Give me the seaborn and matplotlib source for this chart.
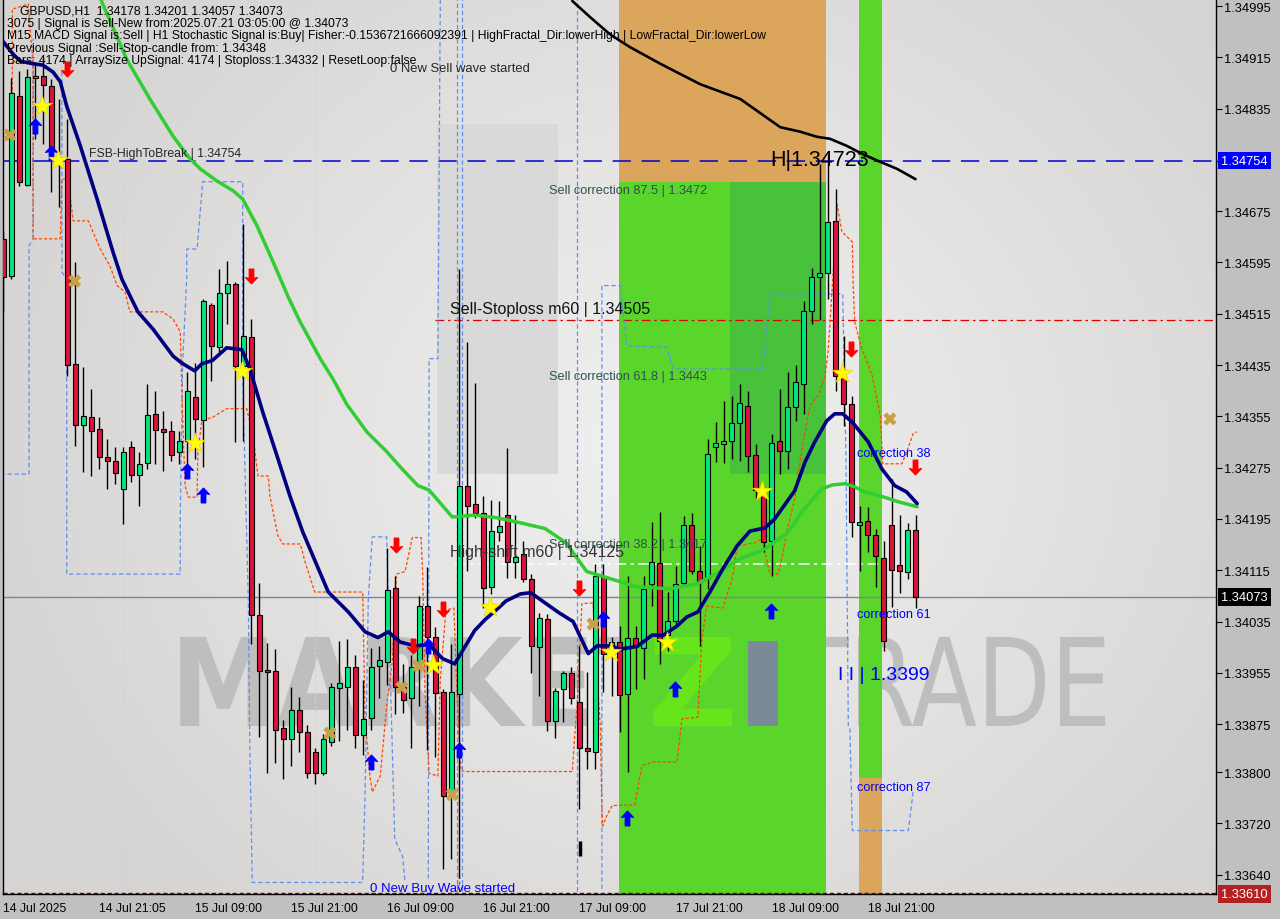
import numpy as np
import pandas as pd
import matplotlib
matplotlib.use("Agg")
import matplotlib.pyplot as plt
import matplotlib.transforms as mtransforms
from matplotlib.patches import Rectangle, PathPatch
from matplotlib.path import Path
from matplotlib.textpath import TextPath
from matplotlib.font_manager import FontProperties
from matplotlib.colors import LinearSegmentedColormap
import seaborn as sns

sns.set_style("white")
plt.rcParams["font.family"] = ["Liberation Sans", "DejaVu Sans"]

# ---------------- GBPUSD H1 candles ----------------
opens = [1.34632, 1.34574, 1.34855, 1.34716, 1.34883, 1.34886, 1.34870, 1.34760, 1.34757, 1.34437,
         1.34342, 1.34354, 1.34336, 1.34292, 1.34286, 1.34242, 1.34307, 1.34264, 1.34283, 1.34359,
         1.34336, 1.34332, 1.34300, 1.34317, 1.34385, 1.34350, 1.34529, 1.34463, 1.34548, 1.34562,
         1.34434, 1.34479, 1.34045, 1.33960, 1.33958, 1.33869, 1.33852, 1.33897, 1.33862, 1.33832,
         1.33799, 1.33847, 1.33932, 1.33933, 1.33964, 1.33858, 1.33885, 1.33966, 1.33972, 1.34088,
         1.33933, 1.33915, 1.33972, 1.34059, 1.34011, 1.33925, 1.33766, 1.33922, 1.34247, 1.34218,
         1.34204, 1.34089, 1.34175, 1.34201, 1.34128, 1.34141, 1.34102, 1.33996, 1.34039, 1.33880,
         1.33929, 1.33955, 1.33910, 1.33837, 1.33832, 1.34106, 1.33992, 1.34003, 1.33922, 1.34010,
         1.33994, 1.34094, 1.34127, 1.34014, 1.34036, 1.34095, 1.34186, 1.34114, 1.34103, 1.34307,
         1.34312, 1.34317, 1.34345, 1.34371, 1.34295, 1.34234, 1.34161, 1.34317, 1.34301, 1.34370,
         1.34406, 1.34520, 1.34573, 1.34579, 1.34660, 1.34418, 1.34374, 1.34186, 1.34192, 1.34170,
         1.34134, 1.34186, 1.34123, 1.34113, 1.34178]
highs = [1.34644, 1.34883, 1.34894, 1.34897, 1.34908, 1.34916, 1.34881, 1.34850, 1.34819, 1.34596,
         1.34432, 1.34398, 1.34354, 1.34320, 1.34307, 1.34307, 1.34317, 1.34300, 1.34406, 1.34395,
         1.34364, 1.34348, 1.34332, 1.34424, 1.34438, 1.34538, 1.34532, 1.34585, 1.34597, 1.34565,
         1.34655, 1.34507, 1.34095, 1.34002, 1.33992, 1.33882, 1.33933, 1.33918, 1.33874, 1.33837,
         1.33860, 1.33939, 1.34005, 1.34008, 1.33983, 1.33944, 1.33994, 1.33997, 1.34150, 1.34106,
         1.33969, 1.33983, 1.34075, 1.34120, 1.34027, 1.33930, 1.34000, 1.34585, 1.34471, 1.34407,
         1.34231, 1.34225, 1.34223, 1.34306, 1.34201, 1.34161, 1.34109, 1.34049, 1.34047, 1.33932,
         1.33958, 1.33964, 1.33997, 1.33957, 1.34125, 1.34125, 1.34011, 1.34028, 1.34106, 1.34028,
         1.34106, 1.34190, 1.34206, 1.34081, 1.34122, 1.34200, 1.34204, 1.34153, 1.34320, 1.34346,
         1.34379, 1.34387, 1.34406, 1.34395, 1.34312, 1.34247, 1.34328, 1.34398, 1.34424, 1.34435,
         1.34535, 1.34587, 1.34749, 1.34765, 1.34710, 1.34481, 1.34387, 1.34215, 1.34214, 1.34180,
         1.34161, 1.34257, 1.34201, 1.34189, 1.34201]
lows = [1.34518, 1.34569, 1.34714, 1.34714, 1.34788, 1.34780, 1.34705, 1.34682, 1.34418, 1.34309,
        1.34268, 1.34262, 1.34273, 1.34242, 1.34250, 1.34187, 1.34253, 1.34215, 1.34273, 1.34281,
        1.34270, 1.34286, 1.34281, 1.34261, 1.34289, 1.34276, 1.34410, 1.34456, 1.34499, 1.34315,
        1.34317, 1.34000, 1.33855, 1.33798, 1.33815, 1.33790, 1.33810, 1.33832, 1.33791, 1.33782,
        1.33796, 1.33841, 1.33849, 1.33866, 1.33837, 1.33827, 1.33866, 1.33915, 1.33936, 1.33890,
        1.33893, 1.33838, 1.33904, 1.33835, 1.33824, 1.33649, 1.33665, 1.33635, 1.34114, 1.34197,
        1.34056, 1.34078, 1.34161, 1.34103, 1.34103, 1.34097, 1.33955, 1.33919, 1.33865, 1.33854,
        1.33879, 1.33907, 1.33743, 1.33805, 1.33805, 1.33925, 1.33919, 1.33863, 1.33801, 1.33930,
        1.33946, 1.34059, 1.33968, 1.33989, 1.34028, 1.34091, 1.34109, 1.33997, 1.34086, 1.34284,
        1.34283, 1.34289, 1.34286, 1.34268, 1.34226, 1.34144, 1.34106, 1.34265, 1.34273, 1.34348,
        1.34359, 1.34499, 1.34505, 1.34538, 1.34395, 1.34340, 1.34167, 1.34114, 1.34144, 1.34089,
        1.33989, 1.34058, 1.34080, 1.34102, 1.34056]
closes = [1.34573, 1.34859, 1.34721, 1.34884, 1.34886, 1.34872, 1.34772, 1.34757, 1.34435, 1.34342,
          1.34356, 1.34332, 1.34292, 1.34286, 1.34267, 1.34300, 1.34264, 1.34281, 1.34357, 1.34334,
          1.34331, 1.34295, 1.34317, 1.34395, 1.34351, 1.34535, 1.34465, 1.34548, 1.34562, 1.34434,
          1.34481, 1.34045, 1.33958, 1.33957, 1.33866, 1.33851, 1.33897, 1.33863, 1.33798, 1.33798,
          1.33852, 1.33933, 1.33939, 1.33964, 1.33858, 1.33883, 1.33964, 1.33975, 1.34084, 1.33933,
          1.33913, 1.33964, 1.34059, 1.34011, 1.33924, 1.33763, 1.33925, 1.34247, 1.34215, 1.34204,
          1.34088, 1.34176, 1.34184, 1.34128, 1.34136, 1.34102, 1.33997, 1.34041, 1.33880, 1.33927,
          1.33955, 1.33915, 1.33837, 1.33833, 1.34106, 1.33985, 1.34003, 1.33921, 1.34010, 1.33996,
          1.34086, 1.34128, 1.34005, 1.34036, 1.34094, 1.34186, 1.34114, 1.34098, 1.34297, 1.34314,
          1.34317, 1.34345, 1.34376, 1.34293, 1.34240, 1.34159, 1.34314, 1.34301, 1.34370, 1.34409,
          1.34520, 1.34573, 1.34579, 1.34658, 1.34418, 1.34374, 1.34190, 1.34190, 1.34170, 1.34137,
          1.34005, 1.34116, 1.34114, 1.34178, 1.34073]

# moving averages (sampled at bar positions)
navy_x = [0, 1.2, 2.1, 3.7, 4.9, 6.2, 7.1, 7.9, 9.6, 11.7, 13.7, 14.8, 16.8, 18.7, 21.2, 22.3, 23.9, 24.8,
          26.1, 27.9, 29.8, 30.8, 32.4, 34.2, 35.8, 37.4, 39.2, 40.6, 43.1, 45.2, 46.8, 48.1, 49.6, 51.4,
          53.2, 54.9, 56.4, 57.6, 58.9, 60.2, 61.6, 62.8, 64.6, 65.9, 67.7, 69.4, 71.2, 73.1, 74.2, 75.8,
          77.1, 79.2, 81.1, 82.4, 84.2, 85.4, 86.8, 88.3, 89.9, 91.7, 93.3, 95.2, 96.4, 98.9, 100.2, 101.4,
          102.9, 103.9, 104.9, 106.1, 108.1, 109.8, 111.4, 112.9, 114.2]
navy_y = [1.34939, 1.34920, 1.34909, 1.34905, 1.34903, 1.34892, 1.34877, 1.34839, 1.34777, 1.34694,
          1.34611, 1.34569, 1.34518, 1.34491, 1.34449, 1.34438, 1.34426, 1.34437, 1.34442, 1.34462,
          1.34459, 1.34429, 1.34362, 1.34293, 1.34231, 1.34175, 1.34122, 1.34081, 1.34050, 1.34019,
          1.34010, 1.34019, 1.34003, 1.33997, 1.33999, 1.33977, 1.33969, 1.33994, 1.34021, 1.34038,
          1.34053, 1.34067, 1.34078, 1.34080, 1.34064, 1.34049, 1.34035, 1.33985, 1.33997, 1.33997,
          1.33992, 1.33996, 1.34014, 1.34013, 1.34028, 1.34042, 1.34050, 1.34081, 1.34117, 1.34153,
          1.34176, 1.34181, 1.34195, 1.34239, 1.34284, 1.34315, 1.34348, 1.34359, 1.34359, 1.34346,
          1.34315, 1.34273, 1.34247, 1.34237, 1.34219]
green_x = [12.0, 15.4, 18.3, 21.2, 23.3, 24.6, 26.7, 28.7, 29.9, 31.7, 33.7, 35.6, 37.1, 39.6, 41.2, 42.9,
           45.4, 47.9, 49.6, 51.8, 53.2, 56.1, 58.9, 61.6, 64.6, 67.7, 70.3, 72.9, 75.8, 79.2, 83.3, 86.7,
           89.6, 92.1, 95.2, 98.1, 99.8, 102.3, 103.6, 105.2, 106.4, 107.7, 109.8, 111.8, 114.2]
green_y = [1.35010, 1.34912, 1.34850, 1.34792, 1.34757, 1.34741, 1.34722, 1.34707, 1.34694, 1.34652,
           1.34596, 1.34541, 1.34502, 1.34445, 1.34413, 1.34374, 1.34331, 1.34300, 1.34276, 1.34247,
           1.34240, 1.34198, 1.34201, 1.34197, 1.34189, 1.34180, 1.34158, 1.34113, 1.34102, 1.34089,
           1.34086, 1.34094, 1.34113, 1.34133, 1.34148, 1.34175, 1.34206, 1.34242, 1.34248, 1.34250,
           1.34245, 1.34237, 1.34230, 1.34222, 1.34214]
black_x = [71.1, 73.3, 75.8, 78.3, 82.1, 87.1, 92.1, 97.1, 99.6, 101.7, 103.3, 105.4, 107.4, 109.6, 111.7, 114.0]
black_y = [1.35003, 1.34978, 1.34951, 1.34931, 1.34905, 1.34873, 1.34850, 1.34806, 1.34799, 1.34791,
           1.34788, 1.34777, 1.34764, 1.34752, 1.34741, 1.34725]

# orange trailing envelope (dashed steps)
orange_x = [1.1, 1.1, 3.1, 3.7, 3.7, 7.1, 7.3, 8.1, 8.7, 10.6, 12.1, 13.3, 14.2, 15.2, 15.8, 19.9, 21.2,
            22.1, 22.4, 22.7, 23.1, 24.2, 24.3, 24.8, 26.2, 27.9, 30.4, 31.2, 31.8, 33.1, 33.3, 34.3, 34.9,
            37.1, 37.7, 38.9, 44.9, 45.2, 45.8, 46.1, 47.1, 47.6, 47.9, 48.6, 49.1, 50.2, 51.1, 52.2, 52.4,
            52.7, 53.2, 54.3, 54.6, 55.3, 56.3, 56.7, 57.2, 58.1, 71.1, 71.4, 71.7, 72.3, 73.7, 73.9, 74.6,
            74.8, 74.9, 75.4, 76.1, 78.9, 79.8, 81.1, 84.2, 84.8, 86.8, 87.3, 87.9, 89.9, 90.4, 91.1, 91.7,
            94.0, 94.8, 95.8, 96.8, 97.3, 97.9, 98.9, 99.8, 100.8, 101.8, 102.7, 103.1, 103.9, 104.2, 104.8,
            106.1, 106.2, 106.4, 107.3, 108.6, 109.6, 109.9, 112.3, 112.9, 113.7, 114.2]
orange_y = [1.34792, 1.34990, 1.34998, 1.34902, 1.34632, 1.34632, 1.34725, 1.34725, 1.34660, 1.34660,
            1.34616, 1.34590, 1.34559, 1.34549, 1.34518, 1.34518, 1.34507, 1.34487, 1.34351, 1.34247,
            1.34229, 1.34229, 1.34300, 1.34348, 1.34354, 1.34367, 1.34367, 1.34325, 1.34262, 1.34262,
            1.34231, 1.34169, 1.34156, 1.34156, 1.34128, 1.34081, 1.34081, 1.33883, 1.33794, 1.33769,
            1.33794, 1.33863, 1.33904, 1.33972, 1.34109, 1.34113, 1.34166, 1.34166, 1.34109, 1.33922,
            1.33798, 1.33794, 1.33944, 1.34053, 1.34056, 1.33918, 1.33802, 1.33801, 1.33801, 1.33857,
            1.33904, 1.34063, 1.34064, 1.34008, 1.33872, 1.33743, 1.33716, 1.33732, 1.33748, 1.33749,
            1.33810, 1.33816, 1.33816, 1.33883, 1.33886, 1.34008, 1.34059, 1.34056, 1.34075, 1.34102,
            1.34153, 1.34158, 1.34164, 1.34109, 1.34109, 1.34133, 1.34175, 1.34226, 1.34304, 1.34371,
            1.34387, 1.34418, 1.34460, 1.34616, 1.34686, 1.34643, 1.34627, 1.34565, 1.34502, 1.34460,
            1.34418, 1.34356, 1.34281, 1.34281, 1.34300, 1.34328, 1.34331]

# blue fractal channel lines (dashed)
blue_paths = [
    ([-0.4, 3.2, 3.2, 3.7, 3.7], [1.34265, 1.34265, 1.34621, 1.34632, 1.34944]),
    ([7.3, 7.3, 7.9, 7.9, 22.1, 22.1, 22.4, 22.9, 22.9, 24.2, 24.9, 29.9, 29.9, 30.6, 30.8, 31.1, 44.9,
      45.2, 45.6, 46.1, 47.9, 48.1, 48.9, 49.9, 50.2],
     [1.34892, 1.34580, 1.34569, 1.34109, 1.34109, 1.34206, 1.34440, 1.34569, 1.34616, 1.34616, 1.34721,
      1.34721, 1.34413, 1.34070, 1.33832, 1.33628, 1.33628, 1.33769, 1.34070, 1.34167, 1.34167, 1.34070,
      1.33696, 1.33668, 1.33628]),
    ([53.1, 53.2, 54.3, 54.6], [1.33634, 1.34445, 1.34445, 1.35006]),
    ([56.7, 56.7], [1.33614, 1.35006]),
    ([57.3, 57.3], [1.33614, 1.35006]),
    ([71.7, 71.7], [1.33614, 1.35006]),
    ([74.8, 74.8, 77.1, 77.9, 82.9, 83.7, 94.9, 95.8, 104.9, 105.3, 105.6, 105.8, 106.1, 113.1, 113.7],
     [1.33618, 1.34559, 1.34559, 1.34465, 1.34463, 1.34429, 1.34429, 1.34546, 1.34546, 1.34300, 1.33872,
      1.33868, 1.33709, 1.33709, 1.33769]),
]

# signal markers
star_x = [4.8, 6.8, 23.9, 29.8, 53.7, 60.8, 75.9, 82.9, 94.8, 104.8]
star_y = [1.34839, 1.34755, 1.34314, 1.34426, 1.33967, 1.34058, 1.33988, 1.34003, 1.34239, 1.34423]
buy_x = [3.9, 5.9, 22.9, 24.9, 45.9, 53.1, 56.9, 74.9, 77.9, 83.9, 95.9]
buy_y = [1.34808, 1.34766, 1.34270, 1.34233, 1.33816, 1.33997, 1.33835, 1.34039, 1.33729, 1.33930, 1.34052]
sell_x = [7.9, 30.9, 49.1, 51.2, 54.9, 71.9, 105.9, 113.9]
sell_y = [1.34897, 1.34574, 1.34155, 1.33997, 1.34055, 1.34088, 1.34460, 1.34276]
cross_x = [0.8, 8.9, 40.8, 49.8, 51.9, 56.1, 73.7, 110.8]
cross_y = [1.34794, 1.34566, 1.33861, 1.33932, 1.33966, 1.33765, 1.34031, 1.34351]

# levels
fsb_level = 1.34754
stoploss_level = 1.34505
highshift_level = 1.34125
last_price = 1.34073
chart_low = 1.33610

price_ticks = [1.34995, 1.34915, 1.34835, 1.34675, 1.34595, 1.34515, 1.34435, 1.34355, 1.34275,
               1.34195, 1.34115, 1.34035, 1.33955, 1.33875, 1.33800, 1.33720, 1.33640]
time_ticks = [0, 12, 24, 36, 48, 60, 72, 84, 96, 108]
time_labels = ["14 Jul 2025", "14 Jul 21:05", "15 Jul 09:00", "15 Jul 21:00", "16 Jul 09:00",
               "16 Jul 21:00", "17 Jul 09:00", "17 Jul 21:00", "18 Jul 09:00", "18 Jul 21:00"]

header = ["GBPUSD,H1  1.34178 1.34201 1.34057 1.34073",
          "3075 | Signal is Sell-New from:2025.07.21 03:05:00 @ 1.34073",
          "M15 MACD Signal is:Sell | H1 Stochastic Signal is:Buy| Fisher:-0.1536721666092391 | "
          "HighFractal_Dir:lowerHigh | LowFractal_Dir:lowerLow",
          "Previous Signal :Sell-Stop-candle from: 1.34348",
          "Bars: 4174 | ArraySize UpSignal: 4174 | Stoploss:1.34332 | ResetLoop:false"]

df = pd.DataFrame({"bar": np.arange(len(opens)), "open": opens, "high": highs,
                   "low": lows, "close": closes})

X0, X1 = -0.06, 151.56
Y0, Y1 = 1.33610, 1.35006

fig = plt.figure(figsize=(12.8, 9.2), dpi=100)
fig.patch.set_facecolor("#c0c0c0")
ax = fig.add_axes([3 / 1280, 25 / 920, 1213 / 1280, 895 / 920])
ax.set_xlim(X0, X1)
ax.set_ylim(Y0, Y1)

# soft background
gy, gx = np.mgrid[0:1:92j, 0:1:128j]
dist = np.sqrt(((gx - 0.55) * 1.25) ** 2 + (gy - 0.5) ** 2)
shade = np.clip(1 - dist / 0.75, 0, 1)
bg_cmap = LinearSegmentedColormap.from_list("bg", ["#d6d4d2", "#f1f1f1"])
ax.imshow(shade, extent=[X0, X1, Y0, Y1], aspect="auto", cmap=bg_cmap, vmin=0, vmax=1,
          origin="lower", interpolation="bilinear", zorder=0)
ax.add_patch(Rectangle((54.2, 1.34265), 15.1, 0.00546, fc="#d9d9d9", ec="none", zorder=0.3))


def fit_text(s, x0, x1, y0, y1, color, weight="bold", family="DejaVu Sans", z=0.5):
    tp = TextPath((0, 0), s, size=100, prop=FontProperties(family=family, weight=weight))
    ext = tp.get_extents()
    v = tp.vertices.copy()
    v[:, 0] = x0 + (v[:, 0] - ext.x0) / ext.width * (x1 - x0)
    v[:, 1] = y0 + (v[:, 1] - ext.y0) / ext.height * (y1 - y0)
    ax.add_patch(PathPatch(Path(v, tp.codes), fc=color, ec="none", zorder=z))


fit_text("MARKETIZ", 22.1, 97.0, 1.33872, 1.34011, "#bebebe")
fit_text("TRADE", 98.3, 137.7, 1.33872, 1.34011, "#bebebe", weight="normal", family="DejaVu Sans")

# signal zones
ax.add_patch(Rectangle((76.94, Y0), 25.9, 1.34721 - Y0, fc="#5ad52b", ec="none", zorder=1))
ax.add_patch(Rectangle((76.94, 1.34721), 25.9, Y1 - 1.34721, fc="#dca55c", ec="none", zorder=1))
ax.add_patch(Rectangle((90.8, 1.34265), 12.0, 0.00456, fc="#49c23b", ec="none", zorder=1.1))
fit_text("Z", 81.2, 91.1, 1.33872, 1.34011, "#66e61a", z=1.15)
ax.add_patch(Rectangle((93.1, 1.33872), 3.7, 0.00133, fc="#7a8a98", ec="none", zorder=1.2))
ax.add_patch(Rectangle((106.9, 1.33791), 2.9, Y1 - 1.33791, fc="#5ad52b", ec="none", zorder=1))
ax.add_patch(Rectangle((106.9, Y0), 2.9, 1.33791 - Y0, fc="#dca55c", ec="none", zorder=1))

# grid / separators
for gxp in [14.9, 38.9]:
    ax.axvline(gxp, color="#b0e0e6", ls=(0, (2, 2)), lw=0.8, zorder=1.5)

# horizontal levels
ax.axhline(fsb_level, color="#0000cd", ls=(0, (12, 7)), lw=1.1, zorder=2)
ax.hlines(stoploss_level, 54.0, X1, color="#e00000", ls=(0, (7, 3, 2, 3)), lw=0.9, zorder=2)
ax.hlines(highshift_level, 56.4, 110.0, color="white", ls=(0, (7, 3, 2, 3)), lw=1.1, zorder=2)
ax.axhline(last_price, color="#778899", lw=1.0, zorder=2)
ax.axhline(chart_low + 0.00002, color="#8b0000", ls=(0, (3, 2)), lw=1.0, zorder=2)
ax.vlines(57.0, 1.33614, 1.33919, color="#c83232", ls=(0, (3, 2)), lw=0.9, zorder=2)

for bx, by in blue_paths:
    ax.plot(bx, by, color="#5b8ff0", ls=(0, (3.5, 2.2)), lw=0.9, zorder=2.2)
ax.plot(orange_x, orange_y, color="#ff4500", ls=(0, (2.5, 1.6)), lw=0.9, zorder=2.3)

# candles
up = df["close"] >= df["open"]
ax.vlines(df["bar"], df["low"], df["high"], color="black", lw=1.0, zorder=4)
body_lo = np.minimum(df["open"], df["close"])
body_h = np.maximum((df["close"] - df["open"]).abs(), 0.00002)
ax.bar(df["bar"], body_h, bottom=body_lo, width=0.68,
       color=np.where(up, "#00e87a", "#dc143c"), edgecolor="black", linewidth=0.8, zorder=5)
ax.vlines(72.1, 1.33670, 1.33692, color="black", lw=2.5, zorder=5)

# moving averages
sns.lineplot(x=black_x, y=black_y, ax=ax, color="black", lw=1.9, estimator=None, sort=False, zorder=6)
sns.lineplot(x=green_x, y=green_y, ax=ax, color="#32cd32", lw=2.5, estimator=None, sort=False, zorder=6)
sns.lineplot(x=navy_x, y=navy_y, ax=ax, color="#000080", lw=2.6, estimator=None, sort=False, zorder=6.5)

# markers
up_arrow = Path([(0, 1), (0.8, 0.15), (0.3, 0.3), (0.3, -1), (-0.3, -1), (-0.3, 0.3), (-0.8, 0.15), (0, 1)],
                [Path.MOVETO] + [Path.LINETO] * 6 + [Path.CLOSEPOLY])
down_arrow = Path(up_arrow.vertices * np.array([1, -1]), up_arrow.codes)
ax.scatter(buy_x, buy_y, marker=up_arrow, s=110, color="#0000ff", zorder=8)
ax.scatter(sell_x, sell_y, marker=down_arrow, s=110, color="#ff0000", zorder=8)
sns.scatterplot(x=star_x, y=star_y, ax=ax, marker="*", s=230, color="#ffff00",
                edgecolor="#f0d000", linewidth=0.5, zorder=8, legend=False)
sns.scatterplot(x=cross_x, y=cross_y, ax=ax, marker="X", s=90, color="#c8a048",
                edgecolor="none", zorder=8, legend=False)

# chart annotations
ax.text(10.7, 1.34766, "FSB-HighToBreak | 1.34754", fontsize=8.8, va="center", ha="left", zorder=9)
ax.text(48.3, 1.34898, "0 New Sell wave started", fontsize=9.4, va="center", ha="left", zorder=9)
ax.text(45.8, 1.33620, "0 New Buy Wave started", fontsize=9.5, va="center", ha="left",
        color="#0000ff", zorder=9)
for yv, txt in [(1.34708, "Sell correction 87.5 | 1.3472"), (1.34418, "Sell correction 61.8 | 1.3443"),
                (1.34156, "Sell correction 38.2 | 1.3417")]:
    ax.text(68.2, yv, txt, fontsize=9.2, va="center", ha="left", color="#2f4f4f", zorder=9)
ax.text(55.8, 1.34524, "Sell-Stoploss m60 | 1.34505", fontsize=11.5, va="center", ha="left",
        color="#111111", zorder=9)
ax.text(55.8, 1.34144, "High-shift m60 | 1.34125", fontsize=11.5, va="center", ha="left",
        color="#333333", zorder=9)
ax.text(95.8, 1.34755, "H|1.34723", fontsize=15.5, va="center", ha="left", color="black", zorder=9)
ax.text(104.3, 1.33952, "I I | 1.3399", fontsize=14, va="center", ha="left", color="#0000ff", zorder=9)
for yv, txt in [(1.34298, "correction 38"), (1.34047, "correction 61"), (1.33777, "correction 87")]:
    ax.text(106.7, yv, txt, fontsize=9.2, va="center", ha="left", color="#0000ff", zorder=9)

for i, line in enumerate(header):
    fig.text((20 if i == 0 else 7) / 1280, 1 - (12 + 12.2 * i) / 920, line, fontsize=8.7,
             va="center", ha="left", color="black", zorder=10)

# axes styling
ax.yaxis.tick_right()
ax.set_yticks(price_ticks + [fsb_level])
ax.set_yticklabels([f"{p:.5f}" for p in price_ticks] + [""])
ax.set_xticks(time_ticks)
ax.set_xticklabels(time_labels, ha="left")
ax.tick_params(axis="y", direction="out", length=4, width=0.8, pad=2, labelsize=9.3, colors="black")
ax.tick_params(axis="x", direction="out", length=4, width=0.8, pad=2, labelsize=8.8, colors="black")
ax.set_xlabel("")
ax.set_ylabel("")
for side in ["left", "right", "bottom"]:
    ax.spines[side].set_color("black")
    ax.spines[side].set_linewidth(1.0)
ax.spines["top"].set_visible(False)

trans = mtransforms.blended_transform_factory(ax.transAxes, ax.transData)
for val, fc in [(fsb_level, "#0000ff"), (last_price, "#000000"), (chart_low, "#b22222")]:
    ax.text(1.0042, val, f"{val:.5f}", transform=trans, ha="left", va="center", color="white",
            fontsize=9.3, bbox=dict(boxstyle="square,pad=0.22", fc=fc, ec="none"),
            clip_on=False, zorder=10)

fig.savefig("out.png", dpi=100, facecolor=fig.get_facecolor())
